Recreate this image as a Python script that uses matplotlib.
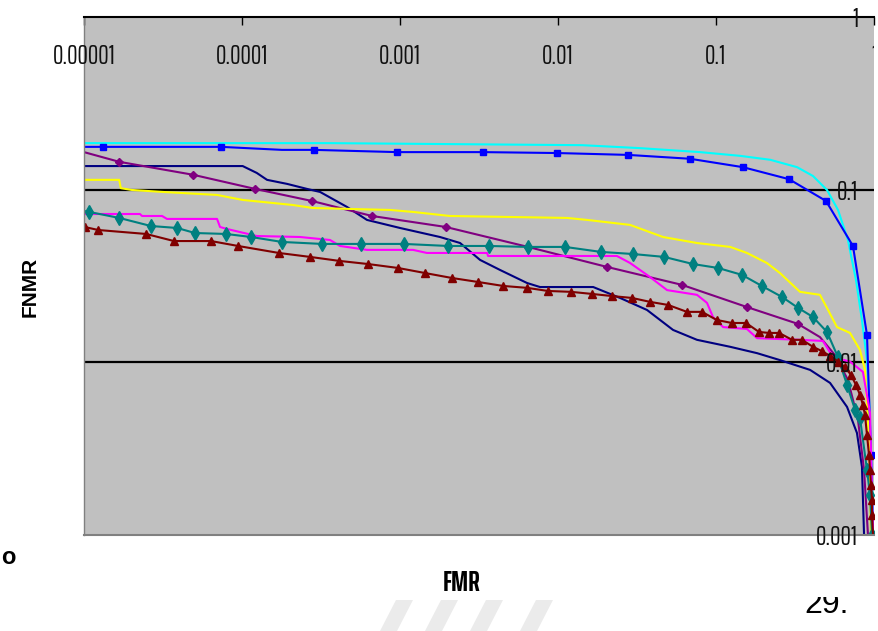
import matplotlib
matplotlib.use("Agg")
import matplotlib.pyplot as plt
from matplotlib.patches import Polygon
from matplotlib.transforms import Bbox, TransformedBbox, blended_transform_factory

# ---- 数据（从参考图读出的 FMR / FNMR 曲线）----
cyan_fmr = [1e-5, 3.6e-4, 0.0142, 0.033, 0.0792, 0.142, 0.220, 0.326, 0.411, 0.504,
            0.592, 0.684, 0.769, 0.839, 0.903, 0.944, 0.971, 1.0]
cyan_fnmr = [0.186, 0.186, 0.181, 0.174, 0.165, 0.157, 0.149, 0.135, 0.120, 0.0996,
             0.0763, 0.0511, 0.0300, 0.0176, 0.0103, 0.00464, 0.00208, 0.001]

blue_fmr = [1e-5, 1.32e-5, 7.36e-5, 1.79e-4, 2.86e-4, 9.57e-4, 3.35e-3, 9.86e-3, 2.77e-2,
            6.84e-2, 0.148, 0.290, 0.497, 0.736, 0.903, 0.957, 0.986]
blue_fnmr = [0.177, 0.177, 0.177, 0.170, 0.170, 0.165, 0.165, 0.163, 0.159,
             0.151, 0.135, 0.115, 0.0860, 0.0472, 0.0144, 0.00291, 0.001]
blue_marks = [1, 2, 4, 5, 6, 7, 8, 9, 10, 11, 12, 13, 14, 15]

purple_fmr = [1e-5, 1.67e-5, 4.90e-5, 1.21e-4, 2.77e-4, 6.65e-4, 1.95e-3, 6.46e-3, 2.04e-2,
              6.09e-2, 0.157, 0.330, 0.455, 0.567, 0.684, 0.792, 0.865, 0.916]
purple_fnmr = [0.165, 0.145, 0.122, 0.101, 0.086, 0.0704, 0.0608, 0.0466, 0.0357,
               0.0281, 0.0209, 0.0167, 0.0140, 0.0110, 0.00791, 0.00464, 0.00238, 0.001]
purple_marks = list(range(1, 12))

navy_fmr = [1e-5, 1.01e-4, 1.24e-4, 1.44e-4, 1.93e-4, 2.58e-4, 3.12e-4, 4.62e-4, 6.18e-4,
            1.0e-3, 1.79e-3, 2.40e-3, 3.21e-3, 4.29e-3, 6.37e-3, 7.69e-3, 1.67e-2, 2.47e-2,
            3.66e-2, 5.35e-2, 7.58e-2, 0.123, 0.182, 0.254, 0.394, 0.527, 0.675, 0.780,
            0.839, 0.865]
navy_fnmr = [0.137, 0.137, 0.125, 0.114, 0.108, 0.101, 0.0970, 0.0794, 0.0668,
             0.0600, 0.0532, 0.0491, 0.0392, 0.0343, 0.0288, 0.0273, 0.0273, 0.0236,
             0.0201, 0.0154, 0.0135, 0.0123, 0.0113, 0.0103, 0.00904, 0.00760, 0.00552,
             0.00390, 0.00248, 0.001]

yellow_fmr = [1e-5, 1.67e-5, 1.71e-5, 2.01e-5, 3.16e-5, 6.95e-5, 1.01e-4, 2.10e-4, 2.81e-4,
              8.65e-4, 1.21e-3, 2.07e-3, 1.14e-2, 1.53e-2, 2.86e-2, 4.62e-2, 7.58e-2, 0.123,
              0.157, 0.210, 0.254, 0.340, 0.455, 0.512, 0.583, 0.705, 0.815, 0.877, 0.930,
              0.957]
yellow_fnmr = [0.114, 0.114, 0.102, 0.0996, 0.0970, 0.0932, 0.0872, 0.0815, 0.0783,
               0.0763, 0.0743, 0.0704, 0.0686, 0.0668, 0.0625, 0.0532, 0.0491, 0.0466,
               0.0430, 0.0376, 0.0329, 0.0256, 0.0246, 0.0201, 0.0160, 0.0148, 0.0118,
               0.00904, 0.00355, 0.001]

teal_fmr = [1e-5, 1.08e-5, 1.67e-5, 2.65e-5, 3.88e-5, 5.04e-5, 7.92e-5, 1.14e-4, 1.79e-4,
            3.21e-4, 5.66e-4, 1.06e-3, 2.01e-3, 3.66e-3, 6.46e-3, 1.11e-2, 1.87e-2, 2.98e-2,
            4.69e-2, 7.15e-2, 0.103, 0.146, 0.195, 0.262, 0.330, 0.411, 0.504, 0.592, 0.675,
            0.759, 0.815, 0.903, 0.944, 0.971]
teal_fnmr = [0.0753, 0.0743, 0.0686, 0.0616, 0.0600, 0.0561, 0.0554, 0.0532, 0.0498,
             0.0485, 0.0485, 0.0485, 0.0472, 0.0472, 0.0466, 0.0466, 0.0436, 0.0424,
             0.0408, 0.0371, 0.0352, 0.0321, 0.0277, 0.0239, 0.0207, 0.0183, 0.0150,
             0.0107, 0.00740, 0.00530, 0.00477, 0.00238, 0.00171, 0.001]
teal_marks = list(range(1, 34))

magenta_fmr = [1e-5, 2.26e-5, 2.33e-5, 3.12e-5, 3.35e-5, 6.95e-5, 7.26e-5, 8.04e-5, 1.24e-4,
               2.33e-4, 3.61e-4, 4.17e-4, 6.18e-4, 1.21e-3, 1.48e-3, 3.56e-3, 3.61e-3,
               2.36e-2, 2.86e-2, 3.82e-2, 4.90e-2, 7.58e-2, 8.77e-2, 9.57e-2, 0.111, 0.157,
               0.182, 0.340, 0.475, 0.551, 0.705, 0.851, 0.944, 0.986]
magenta_fnmr = [0.0723, 0.0723, 0.0704, 0.0704, 0.0677, 0.0677, 0.0608, 0.0592, 0.0539,
                0.0532, 0.0511, 0.0472, 0.0448, 0.0448, 0.0430, 0.0430, 0.0413, 0.0413,
                0.0376, 0.0312, 0.0262, 0.0246, 0.0221, 0.0183, 0.0160, 0.0156, 0.0138,
                0.0135, 0.0133, 0.0107, 0.0101, 0.00880, 0.00509, 0.001]

darkred_fmr = [1e-5, 1.01e-5, 1.23e-5, 2.47e-5, 3.71e-5, 6.37e-5, 9.44e-5, 1.71e-4, 2.69e-4,
               4.11e-4, 6.27e-4, 9.71e-4, 1.44e-3, 2.13e-3, 3.12e-3, 4.49e-3, 6.37e-3,
               8.65e-3, 1.21e-2, 1.64e-2, 2.20e-2, 2.94e-2, 3.82e-2, 4.97e-2, 6.55e-2,
               8.15e-2, 0.101, 0.126, 0.155, 0.187, 0.216, 0.251, 0.303, 0.350, 0.411,
               0.469, 0.527, 0.592, 0.655, 0.715, 0.769, 0.815, 0.851, 0.877, 0.903, 0.930,
               0.944, 0.957, 0.971, 0.971, 0.986]
darkred_fnmr = [0.0625, 0.0608, 0.0584, 0.0554, 0.0504, 0.0504, 0.0472, 0.0430, 0.0408,
                0.0387, 0.0371, 0.0352, 0.0329, 0.0308, 0.0292, 0.0277, 0.0270, 0.0259,
                0.0256, 0.0249, 0.0242, 0.0236, 0.0224, 0.0215, 0.0196, 0.0196, 0.0176,
                0.0169, 0.0169, 0.0150, 0.0148, 0.0148, 0.0135, 0.0135, 0.0123, 0.0116,
                0.0109, 0.0101, 0.00940, 0.00845, 0.00740, 0.00648, 0.00567, 0.00496,
                0.00380, 0.00291, 0.00238, 0.00195, 0.00160, 0.00131, 0.001]
darkred_marks = list(range(1, 50))

x_ticks = [1e-5, 1e-4, 1e-3, 1e-2, 1e-1, 1]
x_tick_labels = ["0.00001", "0.0001", "0.001", "0.01", "0.1", "1"]
y_ticks = [1, 0.1, 0.01, 0.001]
y_tick_labels = ["1", "0.1", "0.01", "0.001"]
grid_levels = [0.1, 0.01]

NARROW = ["Saira ExtraCondensed", "PT Sans Narrow", "DejaVu Sans"]
PLAIN = ["Liberation Sans", "DejaVu Sans"]
PLOT_BG = "#c0c0c0"

# ---- 画布 ----
W, H = 879, 631
fig = plt.figure(figsize=(W / 100, H / 100), dpi=100)
ax = fig.add_axes([84 / W, 1 - 535 / H, 790 / W, 518 / H])
ax.set_facecolor(PLOT_BG)
ax.set_xscale("log")
ax.set_yscale("log")
ax.set_xlim(1e-5, 1)
ax.set_ylim(1e-3, 1)

for lvl in grid_levels:
    ax.axhline(lvl, color="black", lw=1.6, zorder=1)

# 曲线（顺序决定叠放）
series = [
    (navy_fmr, navy_fnmr, "#000080", None, 0, None),
    (cyan_fmr, cyan_fnmr, "#00ffff", None, 0, None),
    (blue_fmr, blue_fnmr, "#0000ff", "s", 4.5, blue_marks),
    (purple_fmr, purple_fnmr, "#800080", "D", 4.5, purple_marks),
    (yellow_fmr, yellow_fnmr, "#ffff00", None, 0, None),
    (magenta_fmr, magenta_fnmr, "#ff00ff", None, 0, None),
    (teal_fmr, teal_fnmr, "#008080", "d", 7, teal_marks),
    (darkred_fmr, darkred_fnmr, "#800000", "^", 6, darkred_marks),
]
for fx, fy, col, mk, ms, every in series:
    ax.plot(fx, fy, color=col, lw=1.5, marker=mk, markersize=ms,
            markevery=every, markerfacecolor=col, markeredgecolor=col,
            zorder=2)

# 轴与刻度
ax.xaxis.set_ticks_position("top")
ax.set_xticks(x_ticks)
ax.xaxis.set_minor_locator(matplotlib.ticker.NullLocator())
ax.yaxis.set_minor_locator(matplotlib.ticker.NullLocator())
ax.set_yticks([])
ax.tick_params(axis="x", which="major", direction="in", length=6, width=1,
               color="black", labeltop=False, labelbottom=False)

for side in ["left", "bottom"]:
    ax.spines[side].set_color("#808080")
ax.spines["left"].set_linewidth(1.0)
ax.spines["bottom"].set_linewidth(1.5)
ax.spines["top"].set_color("black")
ax.spines["top"].set_linewidth(1.5)
ax.spines["right"].set_visible(False)

# 刻度文字（图内）
tx = blended_transform_factory(ax.transData, ax.transAxes)
for v, lab in zip(x_ticks, x_tick_labels):
    ax.text(v, 1 - 37 / 518, lab, transform=tx, ha="center", va="center_baseline",
            fontsize=19, family=NARROW, color="#111111",
            clip_on=(v == x_ticks[-1]), zorder=3)

ty = blended_transform_factory(ax.transAxes, ax.transData)
for v, lab in zip(y_ticks, y_tick_labels):
    ax.text(1 - 16 / 790, v, lab, transform=ty, ha="right", va="center_baseline",
            fontsize=19, family=NARROW, color="#111111",
            clip_on=False, zorder=3)

# 轴标题
fig.text(30 / W, 1 - 287 / H, "FNMR", rotation=90, ha="center", va="center",
         fontsize=15, fontweight="bold", family=PLAIN)
fig.text(462 / W, 1 - 583 / H, "FMR", ha="center", va="center",
         fontsize=20, fontweight="bold", family=NARROW)

# 页码（上缘被裁掉）
t = fig.text(827 / W, 1 - 613 / H, "29.", ha="center", va="baseline",
             fontsize=23, family=PLAIN)
t.set_clip_box(TransformedBbox(Bbox([[0, 0], [1, 1 - 597 / H]]), fig.transFigure))
t.set_clip_on(True)

fig.text(8 / W, 1 - 557 / H, "o", ha="center", va="center", fontsize=17,
         fontweight="bold", family=PLAIN)

# 底部浅灰水印条纹
for x0 in [380, 425, 470, 520]:
    fig.patches.append(Polygon(
        [(x0 / W, 0), ((x0 + 17) / W, 0), ((x0 + 33) / W, 31 / H), ((x0 + 16) / W, 31 / H)],
        closed=True, transform=fig.transFigure, facecolor="#ebebeb",
        edgecolor="none", zorder=0))

fig.savefig("out.png", dpi=100, facecolor="white")
